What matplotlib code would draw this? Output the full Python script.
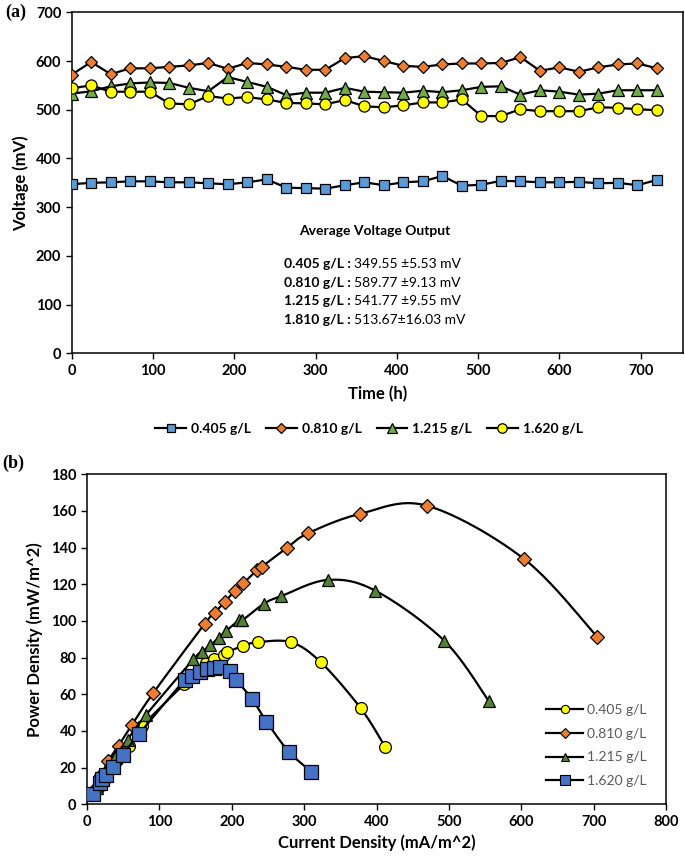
import numpy as np
import matplotlib
matplotlib.use('Agg')
import matplotlib.pyplot as plt
from matplotlib.lines import Line2D

plt.rcParams['font.family'] = ['Lato', 'DejaVu Sans']

# %% panel (a) data : voltage vs time
time_h = [0, 24, 48, 72, 96, 120, 144, 168, 192, 216, 240, 264, 288, 312, 336, 360,
          384, 408, 432, 456, 480, 504, 528, 552, 576, 600, 624, 648, 672, 696, 720]
volt_0405 = [347, 350, 351, 353, 353, 351, 351, 349, 347, 351, 357, 340, 339, 338, 345, 351,
             345, 351, 353, 364, 344, 346, 354, 353, 351, 351, 352, 349, 350, 345, 356]
volt_0810 = [572, 598, 573, 585, 585, 588, 591, 596, 584, 596, 593, 588, 582, 582, 606, 610,
             600, 590, 588, 593, 595, 595, 596, 608, 580, 587, 578, 587, 593, 595, 585]
volt_1215 = [533, 538, 548, 554, 556, 555, 545, 538, 567, 557, 547, 530, 535, 535, 545, 537,
             536, 535, 539, 536, 540, 547, 548, 531, 540, 537, 531, 533, 540, 540, 540]
volt_1620 = [544, 550, 537, 537, 537, 513, 511, 528, 523, 526, 521, 514, 513, 511, 520, 507,
             505, 509, 515, 515, 521, 487, 487, 501, 497, 497, 497, 505, 504, 501, 499]

labels_a = ['0.405 g/L', '0.810 g/L', '1.215 g/L', '1.620 g/L']
avg_names = ['0.405 g/L :', '0.810 g/L :', '1.215 g/L :', '1.810 g/L :']
avg_vals = ['349.55 \u00b15.53 mV', '589.77 \u00b19.13 mV', '541.77 \u00b19.55 mV', '513.67\u00b116.03 mV']

# %% panel (b) data : power density vs current density
cd_y = [15, 27, 42, 58, 76, 134, 164, 175, 189, 194, 216, 236, 282, 323, 378, 412]
pd_y = [9, 15, 24, 32, 42.5, 65.5, 77, 79, 81.6, 83, 86.5, 88.4, 88.4, 77.5, 52.5, 31.3]
cd_o = [12, 20, 29, 43.6, 62.1, 91.2, 162.7, 176.5, 190.3, 204.2, 215.8, 235.1, 241.6, 275.7,
        305.2, 377.2, 469.5, 603.3, 704.8]
pd_o = [9, 16, 23.5, 32, 43.3, 60.5, 98.5, 104.5, 110.4, 116.4, 120.5, 127.8, 129.6, 139.7,
        147.8, 158.4, 162.9, 134, 91.4]
cd_g = [14, 25, 39, 56, 81, 147, 159, 170.5, 182, 192.7, 209.7, 214.4, 244.8, 268.6, 332.9,
        398.5, 493.4, 554.9]
pd_g = [9, 17, 26, 35.3, 48.5, 79.1, 83.2, 86.7, 90.9, 94.7, 100.3, 100.3, 109.5, 113.6, 122.4,
        116.5, 89.3, 56.5]
cd_b = [8.5, 17.8, 21, 26, 35.3, 49.1, 71.8, 134.9, 145.1, 155.7, 165.9, 175.1, 183.4, 198.2,
        206.5, 228.2, 248, 278.9, 309.9]
pd_b = [5.8, 11.5, 13.6, 16, 20.3, 26.8, 38.3, 67.8, 70.2, 72.3, 73.6, 74.2, 74.7, 72.7, 67.8,
        57.4, 45.1, 28.7, 17.8]

labels_b = ['0.405 g/L', '0.810 g/L', '1.215 g/L', '1.620 g/L']


def excel_smooth(x, y, n=24):
    # bezier segments like excel "smoothed line"
    p = np.column_stack([x, y]).astype(float)
    out = [p[:1]]
    for i in range(len(p) - 1):
        p0 = p[i - 1] if i > 0 else p[i]
        p3 = p[i + 2] if i + 2 < len(p) else p[i + 1]
        c1 = p[i] + (p[i + 1] - p0) / 6.0
        c2 = p[i + 1] - (p3 - p[i]) / 6.0
        t = np.linspace(0, 1, n)[1:, None]
        seg = ((1 - t) ** 3) * p[i] + 3 * ((1 - t) ** 2) * t * c1 + 3 * (1 - t) * t ** 2 * c2 + t ** 3 * p[i + 1]
        out.append(seg)
    s = np.vstack(out)
    return s[:, 0], s[:, 1]


fig = plt.figure(figsize=(6.85, 8.56), dpi=100)

# %% panel (a)
ax1 = fig.add_axes([71.7 / 685, 1 - 353.3 / 856, 611.3 / 685, 341 / 856])
sty_a = [('s', '#5B9BD5', 7.5), ('D', '#ED7D31', 6.3), ('^', '#70AD47', 8), ('o', '#FFFF00', 8)]
series_a = [volt_0405, volt_0810, volt_1215, volt_1620]
for vals, (m, c, ms) in zip(series_a, sty_a):
    ax1.plot(time_h, vals, color='black', lw=1.6, marker=m, ms=ms, mfc=c, mec='black', mew=0.9, zorder=3)

ax1.set_xlim(0, 752)
ax1.set_ylim(0, 700)
ax1.set_xticks(range(0, 701, 100))
ax1.set_yticks(range(0, 701, 100))
ax1.tick_params(direction='out', length=4, width=1, labelsize=10.5)
for lab in ax1.get_xticklabels() + ax1.get_yticklabels():
    lab.set_fontweight('bold')
for sp in ax1.spines.values():
    sp.set_linewidth(1.1)
ax1.set_xlabel('Time (h)', fontsize=12, fontweight='bold', labelpad=6)
ax1.set_ylabel('Voltage (mV)', fontsize=12, fontweight='bold', labelpad=5)

fig.text(375 / 685, 1 - 231 / 856, 'Average Voltage Output', ha='center', va='center',
         fontsize=10, fontweight='bold')
for k, (nm, vv) in enumerate(zip(avg_names, avg_vals)):
    yy = 1 - (264 + 18.6 * k) / 856
    t1 = fig.text(284 / 685, yy, nm + ' ', ha='left', va='center', fontsize=10, fontweight='bold')
    fig.canvas.draw()
    bb = t1.get_window_extent()
    fig.text(bb.x1 / 685, yy, vv, ha='left', va='center', fontsize=10)

handles_a = [Line2D([], [], color='black', lw=1.6, marker=m, ms=ms * 0.85, mfc=c, mec='black', mew=0.9)
             for (m, c, ms) in sty_a]
leg_a = fig.legend(handles_a, labels_a, loc='center', bbox_to_anchor=(369 / 685, 1 - 429 / 856), ncol=4,
                   frameon=False, handlelength=2.2, handletextpad=0.35, columnspacing=1.1,
                   prop={'size': 10, 'weight': 'bold'})

fig.text(5 / 685, 1 - 12 / 856, '(a)', family='Liberation Serif', fontweight='bold', fontsize=13,
         ha='left', va='center')

# %% panel (b)
ax2 = fig.add_axes([87 / 685, 1 - 804.3 / 856, 579 / 685, 330 / 856])
sty_b = [('o', '#FFFF00', 8.5), ('D', '#ED7D31', 7), ('^', '#548235', 9), ('s', '#4472C4', 9.5)]
series_b = [(cd_y, pd_y), (cd_o, pd_o), (cd_g, pd_g), (cd_b, pd_b)]
order = [1, 2, 0, 3]
for i in order:
    xs, ys = series_b[i]
    m, c, ms = sty_b[i]
    sx, sy = excel_smooth(xs, ys)
    ax2.plot(sx, sy, color='black', lw=1.6, zorder=2 + i)
    ax2.plot(xs, ys, ls='none', marker=m, ms=ms, mfc=c, mec='black', mew=0.9, zorder=2 + i)

ax2.set_xlim(0, 800)
ax2.set_ylim(0, 180)
ax2.set_xticks(range(0, 801, 100))
ax2.set_yticks(range(0, 181, 20))
ax2.tick_params(direction='out', length=4, width=1, labelsize=10.5)
for lab in ax2.get_xticklabels() + ax2.get_yticklabels():
    lab.set_fontweight('bold')
for sp in ax2.spines.values():
    sp.set_linewidth(1.1)
ax2.set_xlabel('Current Density (mA/m^2)', fontsize=12, fontweight='bold', labelpad=4)
ax2.set_ylabel('Power Density (mW/m^2)', fontsize=12, fontweight='bold', labelpad=6)

handles_b = [Line2D([], [], color='black', lw=1.6, marker=m, ms=ms * 0.7, mfc=c, mec='black', mew=0.8)
             for (m, c, ms) in sty_b]
leg_b = ax2.legend(handles_b, labels_b, loc='center left', bbox_to_anchor=(0.772, 0.178), frameon=False,
                   handlelength=2.6, handletextpad=0.3, labelspacing=0.85, prop={'size': 10},
                   labelcolor='#595959')

fig.text(2 / 685, 1 - 463 / 856, '(b)', family='Liberation Serif', fontweight='bold', fontsize=13,
         ha='left', va='center')

fig.savefig('out.png', dpi=100, facecolor='white')
